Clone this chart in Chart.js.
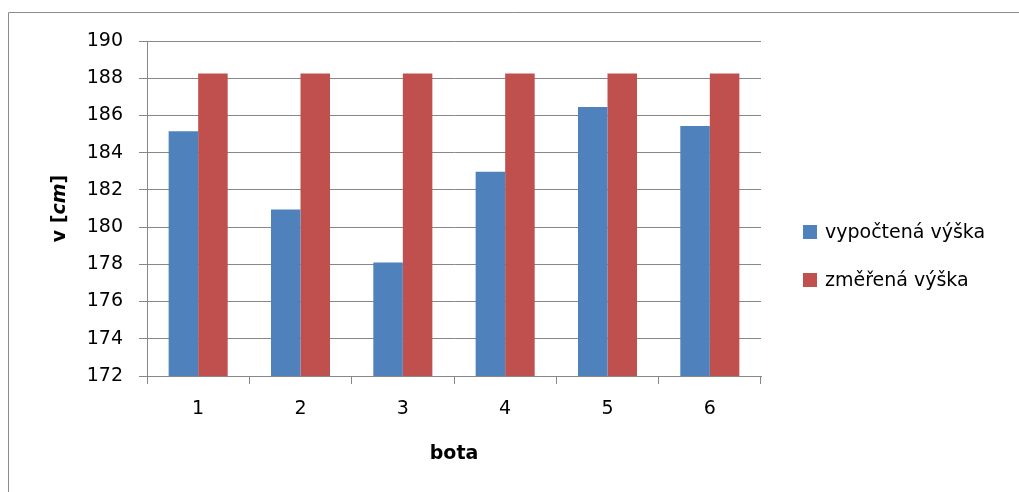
<!DOCTYPE html>
<html>
<head>
<meta charset="utf-8">
<script src="https://cdn.jsdelivr.net/npm/chart.js@4.4.1/dist/chart.umd.min.js"></script>
<style>
  html, body { margin: 0; padding: 0; background: #ffffff; }
  #wrap { width: 1019px; height: 492px; position: relative; }
</style>
</head>
<body>
<div id="wrap"><canvas id="c" width="1019" height="492"></canvas></div>
<script>
const categories = ['1', '2', '3', '4', '5', '6'];
const vypoctena = [185.15, 180.95, 178.1, 182.97, 186.45, 185.43];
const zmerena = [188.25, 188.25, 188.25, 188.25, 188.25, 188.25];
const seriesNames = ['vypočtená výška', 'změřená výška'];
const yTicks = { min: 172, max: 190, step: 2 };
const xTitle = 'bota';

const FONT = '"DejaVu Sans", sans-serif';
const GRID = '#878787';

// outer frame of the chart object
const framePlugin = {
  id: 'frame',
  beforeDraw(chart) {
    const ctx = chart.ctx;
    ctx.save();
    ctx.strokeStyle = '#8c8c8c';
    ctx.lineWidth = 1;
    ctx.beginPath();
    ctx.moveTo(8.5, 492);
    ctx.lineTo(8.5, 12.5);
    ctx.lineTo(1019, 12.5);
    ctx.stroke();
    ctx.restore();
  }
};

// y-axis title with italic unit: "v [cm]"
const yTitlePlugin = {
  id: 'yTitle',
  afterDraw(chart) {
    const ctx = chart.ctx;
    const area = chart.chartArea;
    const parts = [
      { t: 'v [', f: 'bold 19px ' + FONT },
      { t: 'cm', f: 'italic bold 19px ' + FONT },
      { t: ']', f: 'bold 19px ' + FONT }
    ];
    let total = 0;
    parts.forEach(p => { ctx.font = p.f; p.w = ctx.measureText(p.t).width; total += p.w; });
    ctx.save();
    ctx.translate(60, (area.top + area.bottom) / 2);
    ctx.rotate(-Math.PI / 2);
    ctx.fillStyle = '#000';
    ctx.textBaseline = 'middle';
    ctx.textAlign = 'left';
    let x = -total / 2;
    parts.forEach(p => { ctx.font = p.f; ctx.fillText(p.t, x, 0); x += p.w; });
    ctx.restore();
  }
};

// legend on the right, built from the datasets
const sideLegendPlugin = {
  id: 'sideLegend',
  afterDraw(chart) {
    const ctx = chart.ctx;
    const rows = [232, 280];
    ctx.save();
    ctx.font = '19px ' + FONT;
    ctx.textBaseline = 'middle';
    ctx.textAlign = 'left';
    chart.data.datasets.forEach((ds, i) => {
      const y = rows[i];
      ctx.fillStyle = ds.backgroundColor;
      ctx.fillRect(803, y - 7, 14, 14);
      ctx.fillStyle = '#000';
      ctx.fillText(ds.label, 825, y + 1);
    });
    ctx.restore();
  }
};

new Chart(document.getElementById('c'), {
  type: 'bar',
  data: {
    labels: categories,
    datasets: [
      { label: seriesNames[0], data: vypoctena, backgroundColor: '#4F81BD', borderWidth: 0 },
      { label: seriesNames[1], data: zmerena, backgroundColor: '#C0504D', borderWidth: 0 }
    ]
  },
  options: {
    responsive: false,
    animation: false,
    devicePixelRatio: 1,
    layout: { padding: { left: 0, top: 41, right: 258, bottom: 27 } },
    plugins: {
      legend: { display: false },
      tooltip: { enabled: false }
    },
    datasets: { bar: { categoryPercentage: 0.577, barPercentage: 1.0 } },
    scales: {
      x: {
        offset: true,
        grid: { display: true, drawOnChartArea: false, drawTicks: true, tickLength: 8, offset: true, color: GRID },
        border: { display: true, color: GRID },
        ticks: { color: '#000', font: { family: FONT, size: 19 }, padding: 14 },
        title: { display: true, text: xTitle, color: '#000', font: { family: FONT, size: 19, weight: 'bold' }, padding: { top: 8, bottom: 0 } },
        afterFit(s) { s.height = 89; }
      },
      y: {
        min: yTicks.min,
        max: yTicks.max,
        grid: { color: GRID, tickLength: 8, drawTicks: true },
        border: { display: true, color: GRID },
        ticks: { stepSize: yTicks.step, color: '#000', font: { family: FONT, size: 19 }, padding: 16 },
        afterFit(s) { s.width = 147; }
      }
    }
  },
  plugins: [framePlugin, yTitlePlugin, sideLegendPlugin]
});
</script>
</body>
</html>
